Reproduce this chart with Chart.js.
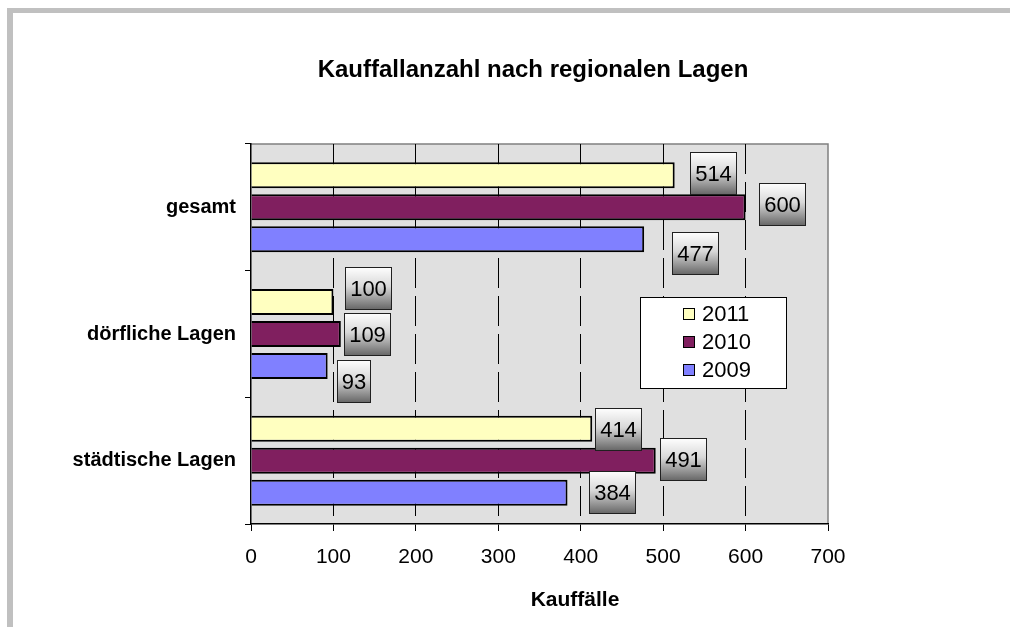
<!DOCTYPE html>
<html>
<head>
<meta charset="utf-8">
<title>Kauffallanzahl nach regionalen Lagen</title>
<script src="https://cdn.jsdelivr.net/npm/chart.js@4.4.1/dist/chart.umd.min.js"></script>
<style>
  html, body { margin: 0; padding: 0; background: #fff; }
  #frame {
    position: absolute; left: 7px; top: 8px; right: 0; bottom: 0;
    border-left: 6px solid #c0c0c0; border-top: 5px solid #c0c0c0;
  }
  #chart { position: absolute; left: 0; top: 0; }
</style>
</head>
<body>
<div id="frame"></div>
<canvas id="chart" width="1010" height="627"></canvas>
<script>
// Data
const categories = ['gesamt', 'dörfliche Lagen', 'städtische Lagen'];
const seriesNames = ['2011', '2010', '2009'];
const values2011 = [514, 100, 414];
const values2010 = [600, 109, 491];
const values2009 = [477, 93, 384];
const xTicks = [0, 100, 200, 300, 400, 500, 600, 700];

const FONT = '"Liberation Sans", Arial, sans-serif';

// where each value box sits relative to its bar end (manual in the original)
const labelShift = [
  [[15, -2], [12, -13], [3, 1]],
  [[13, -3], [3, 0], [4, -1]],
  [[28, 14], [9, 15], [21, 0]],
];

const plotDecor = {
  id: 'plotDecor',
  beforeDraw(chart) {
    const { ctx, chartArea: a } = chart;
    ctx.save();
    ctx.fillStyle = '#e0e0e0';
    ctx.fillRect(a.left, a.top, a.width, a.height);
    ctx.strokeStyle = '#808080';
    ctx.lineWidth = 1.5;
    ctx.beginPath();
    ctx.moveTo(a.left, a.top);
    ctx.lineTo(a.right, a.top);
    ctx.lineTo(a.right, a.bottom);
    ctx.stroke();
    ctx.restore();
  },
  afterDatasetsDraw(chart) {
    const { ctx, chartArea: a } = chart;
    ctx.save();
    ctx.font = '22px ' + FONT;
    chart.data.datasets.forEach((ds, i) => {
      chart.getDatasetMeta(i).data.forEach((bar, j) => {
        const [dx, dy] = labelShift[i][j];
        const text = String(ds.data[j]);
        const w = Math.round(ctx.measureText(text).width + 10);
        const h = 43;
        const x = Math.round(bar.x + dx);
        const y = Math.round(bar.y + dy - h / 2);
        const g = ctx.createLinearGradient(0, y, 0, y + h);
        g.addColorStop(0, '#ffffff');
        g.addColorStop(0.45, '#d8d8d8');
        g.addColorStop(1, '#646464');
        ctx.fillStyle = g;
        ctx.fillRect(x, y, w, h);
        ctx.strokeStyle = '#202020';
        ctx.lineWidth = 1;
        ctx.strokeRect(x + 0.5, y + 0.5, w - 1, h - 1);
        ctx.fillStyle = '#000';
        ctx.textAlign = 'center';
        ctx.textBaseline = 'middle';
        ctx.fillText(text, x + w / 2, y + h / 2 + 1);
      });
    });

    // legend box inside the plot
    const lx = a.left + 389, ly = a.top + 153, lw = 147, lh = 92;
    ctx.fillStyle = '#fff';
    ctx.fillRect(lx, ly, lw, lh);
    ctx.strokeStyle = '#000';
    ctx.lineWidth = 1;
    ctx.strokeRect(lx + 0.5, ly + 0.5, lw - 1, lh - 1);
    ctx.font = '22px ' + FONT;
    ctx.textAlign = 'left';
    ctx.textBaseline = 'middle';
    chart.data.datasets.forEach((ds, i) => {
      const cy = ly + 17 + i * 28;
      ctx.fillStyle = ds.backgroundColor;
      ctx.fillRect(lx + 43, cy - 6, 12, 12);
      ctx.strokeStyle = '#000';
      ctx.strokeRect(lx + 43.5, cy - 5.5, 11, 11);
      ctx.fillStyle = '#000';
      ctx.fillText(ds.label, lx + 62, cy + 1);
    });
    ctx.restore();
  },
  afterDraw(chart) {
    const { ctx } = chart;
    ctx.save();
    ctx.fillStyle = '#000';
    ctx.textAlign = 'center';
    ctx.textBaseline = 'middle';
    ctx.font = 'bold 24px ' + FONT;
    ctx.fillText('Kauffallanzahl nach regionalen Lagen', 533, 70);
    ctx.font = 'bold 21px ' + FONT;
    ctx.fillText('Kauffälle', 575, 600);
    ctx.restore();
  },
};

new Chart(document.getElementById('chart'), {
  type: 'bar',
  data: {
    labels: categories,
    datasets: [
      { label: seriesNames[0], data: values2011, backgroundColor: '#ffffc0' },
      { label: seriesNames[1], data: values2010, backgroundColor: '#801f5f' },
      { label: seriesNames[2], data: values2009, backgroundColor: '#8080ff' },
    ].map((d) => ({
      ...d,
      borderColor: '#000',
      borderWidth: 2,
      categoryPercentage: 0.758,
      barPercentage: 0.8125,
    })),
  },
  options: {
    indexAxis: 'y',
    responsive: false,
    animation: false,
    layout: { padding: { left: 0, top: 144, right: 182, bottom: 0 } },
    plugins: {
      legend: { display: false },
      title: { display: false },
      tooltip: { enabled: false },
    },
    scales: {
      y: {
        afterFit: (s) => { s.width = 251; },
        grid: {
          drawOnChartArea: false,
          drawTicks: true,
          tickLength: 6,
          color: '#000',
          tickColor: '#000',
        },
        border: { color: '#000', width: 1.5 },
        ticks: { color: '#000', padding: 9, font: { family: FONT, size: 20, weight: 'bold' } },
      },
      x: {
        min: xTicks[0],
        max: xTicks[xTicks.length - 1],
        afterFit: (s) => { s.height = 103; },
        afterBuildTicks: (s) => { s.ticks = xTicks.map((v) => ({ value: v })); },
        grid: {
          color: (c) => (c.tick && (c.tick.value === 0 || c.tick.value === 700)) ? 'rgba(0,0,0,0)' : '#000',
          lineWidth: 1,
          tickColor: '#000',
          tickLength: 7,
        },
        border: { color: '#000', width: 1.5, dash: [30, 8] },
        ticks: { color: '#000', padding: 14, font: { family: FONT, size: 21 } },
      },
    },
  },
  plugins: [plotDecor],
});
</script>
</body>
</html>
